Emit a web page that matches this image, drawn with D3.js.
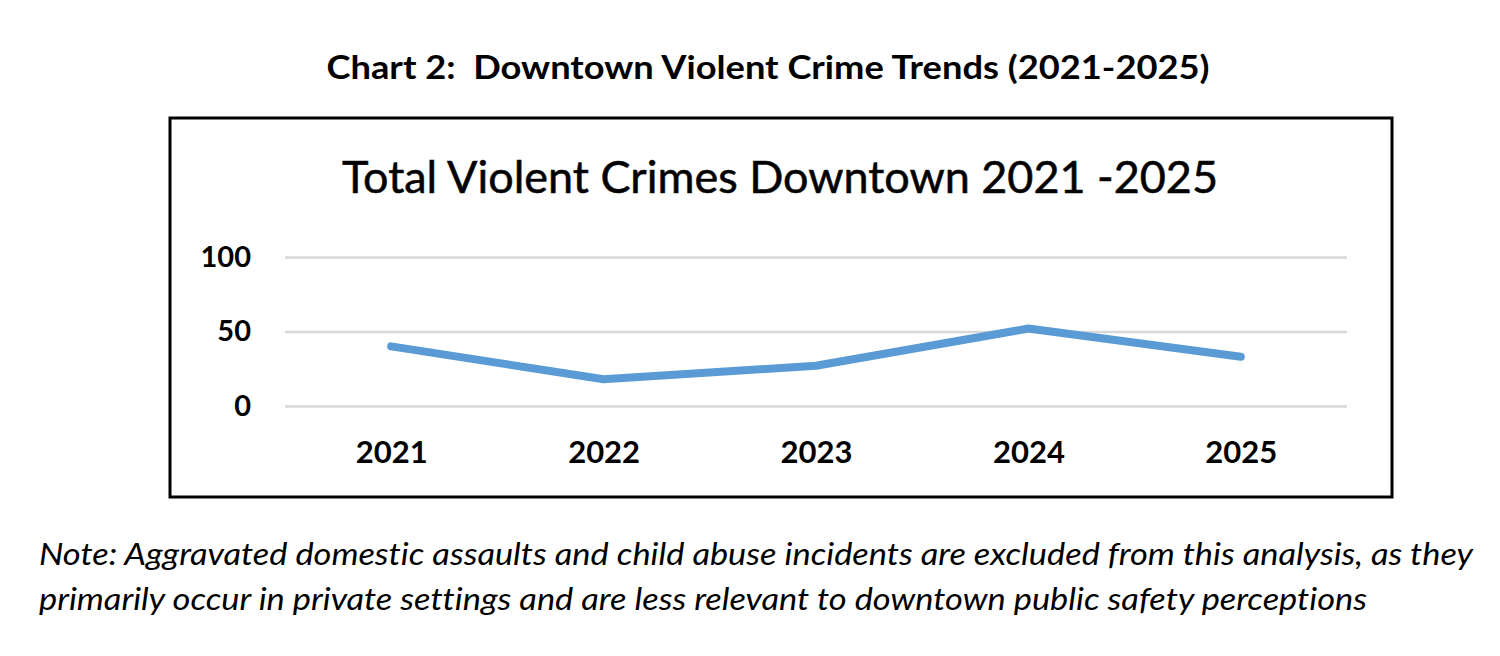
<!DOCTYPE html>
<html>
<head>
<meta charset="utf-8">
<script src="https://cdn.jsdelivr.net/npm/d3@7"></script>
<style>
  body { margin: 0; background: #fff; }
  text { font-family: Lato, "Open Sans", sans-serif; fill: #000; white-space: pre; font-variant-ligatures: none; }
</style>
</head>
<body>
<div id="chart"></div>
<script>
const years = ["2021", "2022", "2023", "2024", "2025"];
const crimes = [40, 18, 27, 52, 33];
const yTicks = [0, 50, 100];

const W = 1500, H = 656;
const margin = {top: 257, right: 153, bottom: 250, left: 285},
      width = W - margin.left - margin.right,
      height = 406 - margin.top;

const svg = d3.select("#chart")
  .append("svg")
    .attr("width", W)
    .attr("height", H)
    .attr("viewBox", `0 0 ${W} ${H}`);

// page title
svg.append("text")
  .attr("x", 768).attr("y", 79)
  .attr("text-anchor", "middle")
  .attr("font-size", 33).attr("font-weight", 700)
  .attr("textLength", 883).attr("lengthAdjust", "spacingAndGlyphs")
  .text("Chart 2:  Downtown Violent Crime Trends (2021-2025)");

// chart frame
svg.append("rect")
  .attr("x", 170).attr("y", 118)
  .attr("width", 1222).attr("height", 379)
  .attr("fill", "none").attr("stroke", "#000").attr("stroke-width", 3);

svg.append("text")
  .attr("x", 780).attr("y", 193)
  .attr("text-anchor", "middle")
  .attr("font-size", 45)
  .attr("fill", "#111")
  .attr("stroke", "#111").attr("stroke-width", 0.6)
  .attr("textLength", 876).attr("lengthAdjust", "spacingAndGlyphs")
  .text("Total Violent Crimes Downtown 2021 -2025");

const g = svg.append("g")
  .attr("transform", `translate(${margin.left}, ${margin.top})`);

const x = d3.scalePoint()
  .domain(years)
  .range([0, width])
  .padding(0.5);

const y = d3.scaleLinear()
  .domain([0, 100])
  .range([height, 0]);

// grid + y labels
const yAxis = g.append("g")
  .call(d3.axisLeft(y).tickValues(yTicks).tickSize(-width).tickPadding(34));
yAxis.select(".domain").remove();
yAxis.selectAll(".tick line").attr("stroke", "#d9d9d9").attr("stroke-width", 2.5);
yAxis.selectAll(".tick text")
  .attr("font-size", 29).attr("font-weight", 700)
  .attr("font-family", "Lato, sans-serif").attr("fill", "#000");

// x labels
const xAxis = g.append("g")
  .attr("transform", `translate(0, ${height})`)
  .call(d3.axisBottom(x).tickSize(0).tickPadding(35));
xAxis.select(".domain").remove();
xAxis.selectAll(".tick text")
  .attr("font-size", 31).attr("font-weight", 700)
  .attr("font-family", "Lato, sans-serif").attr("fill", "#000");

const line = d3.line()
  .x((d, i) => x(years[i]))
  .y(d => y(d));

g.append("path")
  .datum(crimes)
  .attr("d", line)
  .attr("fill", "none")
  .attr("stroke", "#5b9bd5")
  .attr("stroke-width", 8)
  .attr("stroke-linecap", "round")
  .attr("stroke-linejoin", "round");

// note
const note = [
  "Note: Aggravated domestic assaults and child abuse incidents are excluded from this analysis, as they",
  "primarily occur in private settings and are less relevant to downtown public safety perceptions"
];
const noteLen = [1434, 1328];
svg.selectAll(".note")
  .data(note)
  .enter()
  .append("text")
  .attr("class", "note")
  .attr("x", 39)
  .attr("y", (d, i) => 565 + i * 45)
  .attr("font-size", 30)
  .attr("font-style", "italic")
  .attr("textLength", (d, i) => noteLen[i])
  .attr("lengthAdjust", "spacingAndGlyphs")
  .text(d => d);
</script>
</body>
</html>
